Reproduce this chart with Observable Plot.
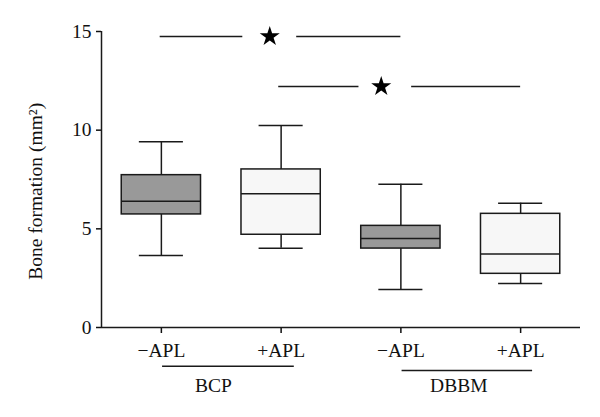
<!DOCTYPE html>
<html><head><meta charset="utf-8">
<script src="https://cdn.jsdelivr.net/npm/d3@7"></script>
<script src="https://cdn.jsdelivr.net/npm/@observablehq/plot@0.6"></script>
<style>html,body{margin:0;padding:0;background:#fff}</style>
</head><body><div id="chart"></div>
<script>
// ---- data ----
const groups = ["BCP", "BCP", "DBBM", "DBBM"];
const treatments = ["\u2212APL", "+APL", "\u2212APL", "+APL"];
const positions = [1, 2, 3, 4];
const whiskerLow = [3.65, 4.02, 1.93, 2.23];
const q1 = [5.73, 4.70, 4.00, 2.72];
const median = [6.40, 6.78, 4.51, 3.73];
const q3 = [7.72, 8.01, 5.15, 5.76];
const whiskerHigh = [9.41, 10.24, 7.26, 6.30];
const fills = ["#999999", "#f7f7f7", "#999999", "#f7f7f7"];
const yTicks = [0, 5, 10, 15];
const yLabel = "Bone formation (mm\u00b2)";
const sigSegments = [
  {y: 14.75, x1: 0.99, x2: 1.68},
  {y: 14.75, x1: 2.13, x2: 3.0},
  {y: 12.21, x1: 1.98, x2: 2.65},
  {y: 12.21, x1: 3.09, x2: 4.0}
];
const sigStars = [{x: 1.905, y: 14.75}, {x: 2.836, y: 12.21}];
const groupNames = ["BCP", "DBBM"];
const groupBracketX1 = [1.01, 3.01];
const groupBracketX2 = [2.11, 4.10];
const groupBracketY = [-1.96, -2.18];
const groupLabelX = [1.435, 3.484];
const groupLabelY = -2.95;

// ---- build tables ----
const boxes = positions.map((p, i) => ({
  pos: p, group: groups[i], treatment: treatments[i],
  lo: whiskerLow[i], q1: q1[i], med: median[i], q3: q3[i], hi: whiskerHigh[i], fill: fills[i]
}));
const brackets = groupNames.map((n, i) => ({
  name: n, x1: groupBracketX1[i], x2: groupBracketX2[i], y: groupBracketY[i], lx: groupLabelX[i], ly: groupLabelY
}));

const boxHalf = 0.331, capHalf = 0.184;
const ink = "#1a1a1a";
const sw = 1.5;
const fs = 19.5;

const chart = Plot.plot({
  width: 600, height: 417,
  marginLeft: 101, marginRight: 20, marginTop: 31, marginBottom: 90,
  style: {fontFamily: "'Liberation Serif', 'Times New Roman', serif", fontSize: "19.5px", background: "#fff", color: "#111"},
  x: {domain: [0.5, 4.5]},
  y: {domain: [0, 15]},
  color: {type: "identity"},
  marks: [
    // whiskers
    Plot.ruleX(boxes, {x: "pos", y1: "lo", y2: "q1", stroke: ink, strokeWidth: sw}),
    Plot.ruleX(boxes, {x: "pos", y1: "q3", y2: "hi", stroke: ink, strokeWidth: sw}),
    Plot.ruleY(boxes, {y: "lo", x1: d => d.pos - capHalf, x2: d => d.pos + capHalf, stroke: ink, strokeWidth: sw}),
    Plot.ruleY(boxes, {y: "hi", x1: d => d.pos - capHalf, x2: d => d.pos + capHalf, stroke: ink, strokeWidth: sw}),
    // boxes
    Plot.rect(boxes, {x1: d => d.pos - boxHalf, x2: d => d.pos + boxHalf, y1: "q1", y2: "q3", fill: "fill", stroke: ink, strokeWidth: sw}),
    Plot.ruleY(boxes, {y: "med", x1: d => d.pos - boxHalf, x2: d => d.pos + boxHalf, stroke: ink, strokeWidth: sw}),
    // axes
    Plot.axisY({ticks: yTicks, tickSize: 5, tickPadding: 5, label: null, strokeWidth: sw, fontSize: fs, fill: "#111"}),
    Plot.axisX({ticks: positions, tickFormat: d => treatments[d - 1], tickSize: 6, tickPadding: 10, label: null, strokeWidth: sw, fontSize: fs, fill: "#111"}),
    Plot.ruleX([0.5], {stroke: ink, strokeWidth: sw}),
    Plot.ruleY([0], {stroke: ink, strokeWidth: sw}),
    // y label
    Plot.text([yLabel], {x: 0.5, y: 6.9, text: d => d, rotate: -90, dx: -66, fontSize: fs, fill: "#111"}),
    // significance
    Plot.ruleY(sigSegments, {y: "y", x1: "x1", x2: "x2", stroke: ink, strokeWidth: sw}),
    Plot.dot(sigStars, {x: "x", y: "y", symbol: "star", r: 6.3, fill: "#000", stroke: "none"}),
    // group brackets
    Plot.ruleY(brackets, {y: "y", x1: "x1", x2: "x2", stroke: ink, strokeWidth: sw}),
    Plot.text(brackets, {x: "lx", y: "ly", text: "name", fontSize: fs, fill: "#111"})
  ]
});
document.getElementById("chart").append(chart);
</script>
</body></html>
